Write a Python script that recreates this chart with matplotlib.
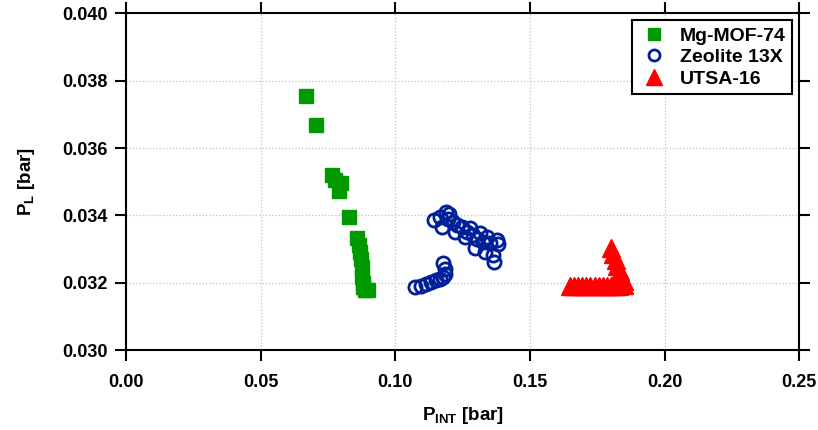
import numpy as np
import matplotlib.pyplot as plt

plt.rcParams['font.family'] = ['Liberation Sans', 'DejaVu Sans']
plt.rcParams['font.weight'] = 'bold'
plt.rcParams['mathtext.fontset'] = 'custom'
plt.rcParams['mathtext.rm'] = 'Liberation Sans:bold'
plt.rcParams['mathtext.bf'] = 'Liberation Sans:bold'

# Mg-MOF-74
mof_x = [0.0669, 0.0706, 0.0766, 0.0777, 0.0799, 0.0792, 0.0829, 0.0859,
         0.0865, 0.0870, 0.0874, 0.0877, 0.0877, 0.0879, 0.0881, 0.0888, 0.0900]
mof_y = [0.03755, 0.03669, 0.03520, 0.03505, 0.03496, 0.03473, 0.03395, 0.03333,
         0.03312, 0.03291, 0.03270, 0.03247, 0.03217, 0.03200, 0.03187, 0.03178, 0.03178]

# Zeolite 13X
zeo_x = [0.1074, 0.1097, 0.1115, 0.1134, 0.1152, 0.1167, 0.1178, 0.1186, 0.1186, 0.1178,
         0.1145, 0.1167, 0.1190, 0.1201, 0.1175, 0.1216, 0.1223, 0.1249, 0.1260, 0.1279,
         0.1290, 0.1297, 0.1316, 0.1335, 0.1342, 0.1353, 0.1364, 0.1368, 0.1379, 0.1383,
         0.1195, 0.1230, 0.1265, 0.1305, 0.1325]
zeo_y = [0.03187, 0.03190, 0.03196, 0.03202, 0.03208, 0.03211, 0.03217, 0.03226, 0.03241, 0.03259,
         0.03386, 0.03395, 0.03410, 0.03404, 0.03366, 0.03380, 0.03351, 0.03366, 0.03336, 0.03363,
         0.03342, 0.03303, 0.03348, 0.03291, 0.03336, 0.03318, 0.03282, 0.03261, 0.03327, 0.03315,
         0.03390, 0.03372, 0.03350, 0.03330, 0.03320]

# UTSA-16
utsa_x = [0.1650, 0.1665, 0.1680, 0.1695, 0.1710, 0.1725, 0.1740, 0.1755, 0.1770,
          0.1785, 0.1800, 0.1815, 0.1830,
          0.1803, 0.1810, 0.1818, 0.1825, 0.1833, 0.1840, 0.1848, 0.1851]
utsa_y = [0.0319, 0.0319, 0.0319, 0.0319, 0.0319, 0.0319, 0.0319, 0.0319, 0.0319,
          0.0319, 0.0319, 0.0319, 0.0319,
          0.03303, 0.03285, 0.03268, 0.03250, 0.03235, 0.03220, 0.03205, 0.03193]

fig = plt.figure(figsize=(8.18, 4.30), dpi=100)
ax = fig.add_axes([0.154, 0.186, 0.823, 0.783])

ax.plot(mof_x, mof_y, 's', color='#009900', ms=10.5, mec='#009900', label='Mg-MOF-74', zorder=3)
ax.plot(zeo_x, zeo_y, 'o', mfc='none', mec='#00209a', mew=2, ms=9.5, label='Zeolite 13X', zorder=3)
ax.plot(utsa_x, utsa_y, '^', color='#ff0000', ms=13, mec='#ff0000', label='UTSA-16', zorder=3)

ax.set_xlim(0, 0.25)
ax.set_ylim(0.030, 0.040)
ax.set_xticks(np.arange(0, 0.251, 0.05))
ax.set_yticks(np.arange(0.030, 0.0401, 0.002))
ax.set_xticklabels(['%.2f' % v for v in np.arange(0, 0.251, 0.05)])
ax.set_yticklabels(['%.3f' % v for v in np.arange(0.030, 0.0401, 0.002)])

ax.grid(True, ls=':', color='#c0c0c0', lw=0.9)
for s in ax.spines.values():
    s.set_linewidth(1.5)
ax.tick_params(direction='out', length=8, width=1.5, labelsize=13,
               top=True, right=True, pad=5)
ax.tick_params(axis='x', pad=9)

ax.set_xlabel(r'$\mathregular{P_{INT}}$ [bar]', fontsize=13.5, fontweight='bold', labelpad=10)
ax.set_ylabel(r'$\mathregular{P_{L}}$ [bar]', fontsize=13.5, fontweight='bold', labelpad=18)

leg = ax.legend(loc='upper right', fontsize=14, frameon=True, fancybox=False,
                edgecolor='black', framealpha=1, borderaxespad=0.35,
                handlelength=1.6, handletextpad=0.5, labelspacing=0.2, borderpad=0.35)
leg.get_frame().set_linewidth(1.5)
for h, m in zip(leg.legend_handles, [8, 8, 11]):
    h.set_markersize(m)

fig.savefig('out.png', dpi=100)
